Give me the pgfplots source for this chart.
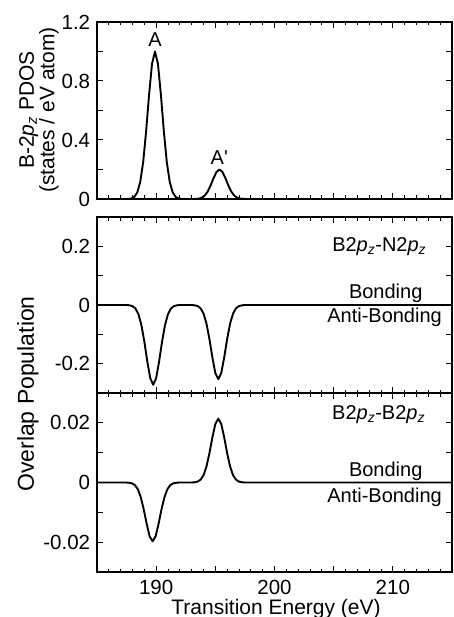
\documentclass[border=0pt]{standalone}
\usepackage{fontspec}
\setmainfont{Liberation Sans}
\usepackage{pgfplots}
\pgfplotsset{compat=1.18}
\begin{document}
\fontsize{20}{24}\selectfont
\begin{tikzpicture}
\pgfplotsset{
  every axis/.append style={
    scale only axis, width=355pt, xmin=185, xmax=215,
    axis line style={line width=1.3pt},
    xtick={185,190,...,215}, minor x tick num=4,
    major tick length=6pt, minor tick length=3.5pt,
    every tick/.style={line width=1pt, black},
    every minor tick/.style={line width=0.9pt, black},
    tick label style={font=\fontsize{20.5}{24}\selectfont},
    /pgf/number format/assume math mode=true,
    scaled y ticks=false, scaled x ticks=false,
    clip=false,
  },
  mycurve/.style={black, line width=1.9pt, line join=round, no markers},
}
% ---------- top panel
\begin{axis}[at={(97pt,-199pt)}, anchor=south west, height=177pt,
  ymin=0, ymax=1.2, ytick={0,0.2,...,1.2}, yticklabels={0,,0.4,,0.8,,1.2},
  xticklabels={}]
\addplot[mycurve] coordinates {
(185,0) (187.65,0) (187.9,0.004) (188.15,0.014) (188.4,0.044) (188.65,0.114) (188.9,0.249)
(189.15,0.458) (189.4,0.707) (189.65,0.917) (189.9,1.0) (190.15,0.917) (190.4,0.707)
(190.65,0.458) (190.9,0.249) (191.15,0.114) (191.4,0.044) (191.65,0.014) (191.9,0.004) (192.15,0)
};
\addplot[mycurve] coordinates {
(193.1,0) (193.35,0.0008) (193.6,0.0028) (193.85,0.0088) (194.1,0.0228) (194.35,0.0499) (194.6,0.0916)
(194.85,0.1413) (195.1,0.1834) (195.35,0.2) (195.6,0.1834) (195.85,0.1413) (196.1,0.0916)
(196.35,0.0499) (196.6,0.0228) (196.85,0.0088) (197.1,0.0028) (197.35,0.0008) (197.6,0)
};
\node at (axis cs:189.9,1.078) {A};
\node at (axis cs:195.33,0.278) {A\textquotesingle};
\end{axis}
% ---------- middle panel
\begin{axis}[at={(97pt,-393pt)}, anchor=south west, height=176pt,
  ymin=-0.3, ymax=0.3, ytick={-0.3,-0.2,...,0.3}, yticklabels={,-0.2,,0,,0.2,},
  xticklabels={}]
\addplot[mycurve] coordinates {
(185,0) (187.5,0) (187.75,-0.001) (188.0,-0.0039) (188.25,-0.0119) (188.5,-0.0311) (188.75,-0.0678)
(189.0,-0.1245) (189.25,-0.1922) (189.5,-0.2494) (189.75,-0.272) (190.0,-0.2494) (190.25,-0.1922)
(190.5,-0.1245) (190.75,-0.0678) (191.0,-0.0311) (191.25,-0.0119) (191.5,-0.0039) (191.75,-0.001)
(192.0,0) (193.0,0)
(193.25,-0.001) (193.5,-0.0036) (193.75,-0.0111) (194.0,-0.0289) (194.25,-0.0631) (194.5,-0.1158)
(194.75,-0.1788) (195.0,-0.2320) (195.25,-0.253) (195.5,-0.2320) (195.75,-0.1788) (196.0,-0.1158)
(196.25,-0.0631) (196.5,-0.0289) (196.75,-0.0111) (197.0,-0.0036) (197.25,-0.001) (197.5,0) (215,0)
};
\node[anchor=east] at (axis cs:213.4,0.2) {B2\textit{p}\textsubscript{\textit{z}}-N2\textit{p}\textsubscript{\textit{z}}};
\node at (axis cs:209.4,0.041) {Bonding};
\node at (axis cs:209.3,-0.041) {Anti-Bonding};
\end{axis}
% ---------- bottom panel
\begin{axis}[at={(97pt,-572pt)}, anchor=south west, height=179pt,
  ymin=-0.03, ymax=0.03, ytick={-0.03,-0.02,...,0.03}, yticklabels={,-0.02,,0,,0.02,},
  xticklabels={,190,,200,,210,},
  xticklabel style={yshift=-1pt}]
\addplot[mycurve] coordinates {
(185,0) (187.45,0) (187.7,-0.00008) (187.95,-0.00028) (188.2,-0.00086) (188.45,-0.00225) (188.7,-0.00491)
(188.95,-0.00902) (189.2,-0.01392) (189.45,-0.01806) (189.7,-0.0197) (189.95,-0.01806) (190.2,-0.01392)
(190.45,-0.00902) (190.7,-0.00491) (190.95,-0.00225) (191.2,-0.00086) (191.45,-0.00028) (191.7,-0.00008)
(191.95,0) (193.0,0)
(193.25,0.00008) (193.5,0.0003) (193.75,0.00094) (194.0,0.00244) (194.25,0.00534) (194.5,0.0098)
(194.75,0.01512) (195.0,0.01962) (195.25,0.0214) (195.5,0.01962) (195.75,0.01512) (196.0,0.0098)
(196.25,0.00534) (196.5,0.00244) (196.75,0.00094) (197.0,0.0003) (197.25,0.00008) (197.5,0) (215,0)
};
\node[anchor=east] at (axis cs:213.3,0.0227) {B2\textit{p}\textsubscript{\textit{z}}-B2\textit{p}\textsubscript{\textit{z}}};
\node at (axis cs:209.4,0.0038) {Bonding};
\node at (axis cs:209.3,-0.0051) {Anti-Bonding};
\end{axis}
% ---------- outer labels
\node[rotate=90, align=center, font=\fontsize{21}{17}\selectfont] at (39pt,-110pt)
  {B-2\textit{p}\textsubscript{\textit{z}} PDOS\\(states / eV atom)};
\node[rotate=90, font=\fontsize{23}{24}\selectfont] at (28pt,-394pt) {Overlap Population};
\node[anchor=base, font=\fontsize{21}{24}\selectfont] at (276pt,-614pt) {Transition Energy (eV)};
\pgfresetboundingbox
\useasboundingbox (0,0) rectangle (453pt,-617pt);
\end{tikzpicture}
\end{document}
